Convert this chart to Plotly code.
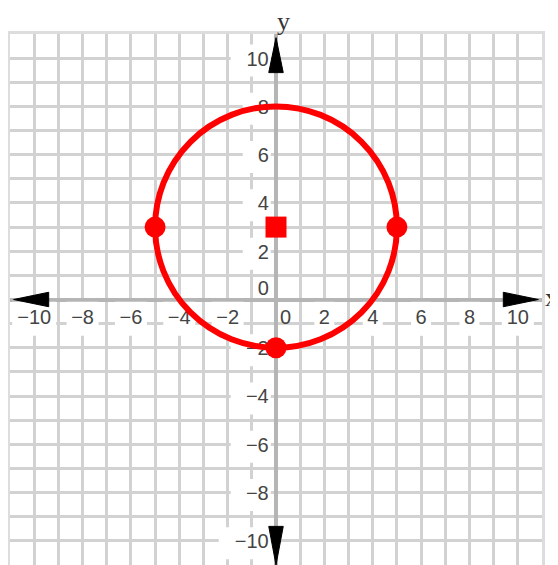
import plotly.graph_objects as go

# ---- data ----
circle_center = (0, 3)
circle_radius = 5
point_x = [0, -5, 5, 0]
point_y = [3, 3, 3, -2]
point_symbols = ["square", "circle", "circle", "circle"]
tick_values = [-10, -8, -6, -4, -2, 0, 2, 4, 6, 8, 10]
axis_min, axis_max = -11, 11

def lab(v):
    return str(v).replace("-", "\u2212")

# label layout
x_lab_y = -0.8
y_lab_x = -0.3
font = dict(family="Liberation Sans, Arial, sans-serif", size=20, color="#444444")

fig = go.Figure()

# white label backgrounds (between grid and traces)
shapes = []
for v in tick_values:
    t = lab(v)
    w = 12 * len(t) + 8
    if v != 0:
        shapes.append(dict(type="rect", layer="between", xref="x", yref="y",
                           xsizemode="pixel", ysizemode="pixel", xanchor=v, yanchor=x_lab_y,
                           x0=-w / 2, x1=w / 2, y0=-17, y1=17,
                           fillcolor="white", line=dict(width=0)))
        shapes.append(dict(type="rect", layer="between", xref="x", yref="y",
                           xsizemode="pixel", ysizemode="pixel", xanchor=y_lab_x, yanchor=v - 0.1,
                           x0=-w - 6, x1=2, y0=-16, y1=16,
                           fillcolor="white", line=dict(width=0)))

# x tick labels
xs = [v if v != 0 else 0.4 for v in tick_values]
fig.add_trace(go.Scatter(x=xs, y=[x_lab_y] * len(tick_values), mode="text",
                         text=[lab(v) for v in tick_values], textposition="middle center",
                         textfont=font, hoverinfo="skip", showlegend=False, cliponaxis=False))
# y tick labels
ys = [v - 0.1 if v != 0 else 0.4 for v in tick_values]
fig.add_trace(go.Scatter(x=[y_lab_x] * len(tick_values), y=ys, mode="text",
                         text=[lab(v) for v in tick_values], textposition="middle left",
                         textfont=font, hoverinfo="skip", showlegend=False, cliponaxis=False))

# circle
cx, cy = circle_center
shapes.append(dict(type="circle", layer="above", xref="x", yref="y",
                   x0=cx - circle_radius, x1=cx + circle_radius,
                   y0=cy - circle_radius, y1=cy + circle_radius,
                   line=dict(color="#ff0000", width=6)))

# points
fig.add_trace(go.Scatter(x=point_x, y=point_y, mode="markers",
                         marker=dict(color="#ff0000", size=21, symbol=point_symbols,
                                     line=dict(width=0)),
                         hoverinfo="skip", showlegend=False, cliponaxis=False))

# axis arrows (triangles)
tip, base, hw = 10.85, 9.4, 0.3
arrow_paths = [
    f"M {-tip},0 L {-base},{hw} L {-base},{-hw} Z",
    f"M {tip},0 L {base},{hw} L {base},{-hw} Z",
    f"M 0,{tip} L {hw},{base} L {-hw},{base} Z",
    f"M 0,{-tip - 0.15} L {hw},{-base} L {-hw},{-base} Z",
]
for p in arrow_paths:
    shapes.append(dict(type="path", path=p, xref="x", yref="y", layer="above",
                       fillcolor="black", line=dict(color="black", width=1)))

# page body has an 8px default margin; size the figure to fill the window
fig.update_layout(
    width=550, height=557,
    margin=dict(l=2, r=16, t=26, b=0),
    paper_bgcolor="white", plot_bgcolor="white",
    shapes=shapes,
    showlegend=False,
    annotations=[
        dict(text="y", xref="x", yref="paper", x=0.3, y=1, yanchor="bottom", yshift=-4,
             showarrow=False, font=dict(family="Liberation Serif, serif", size=26, color="#333")),
        dict(text="x", xref="x", yref="y", x=11, y=0.1, xanchor="left", xshift=1,
             showarrow=False, font=dict(family="Liberation Serif, serif", size=26, color="#333")),
    ],
)
axis_common = dict(range=[axis_min, axis_max], dtick=1, tick0=0, showgrid=True,
                   gridcolor="#d2d2d2", gridwidth=3, zeroline=True,
                   zerolinecolor="#b5b5b5", zerolinewidth=4,
                   showticklabels=False, ticks="", showline=True, mirror=True,
                   linecolor="#dddddd", linewidth=3, fixedrange=True)
fig.update_xaxes(**axis_common)
fig.update_yaxes(**axis_common)

fig.write_html("out.html")
